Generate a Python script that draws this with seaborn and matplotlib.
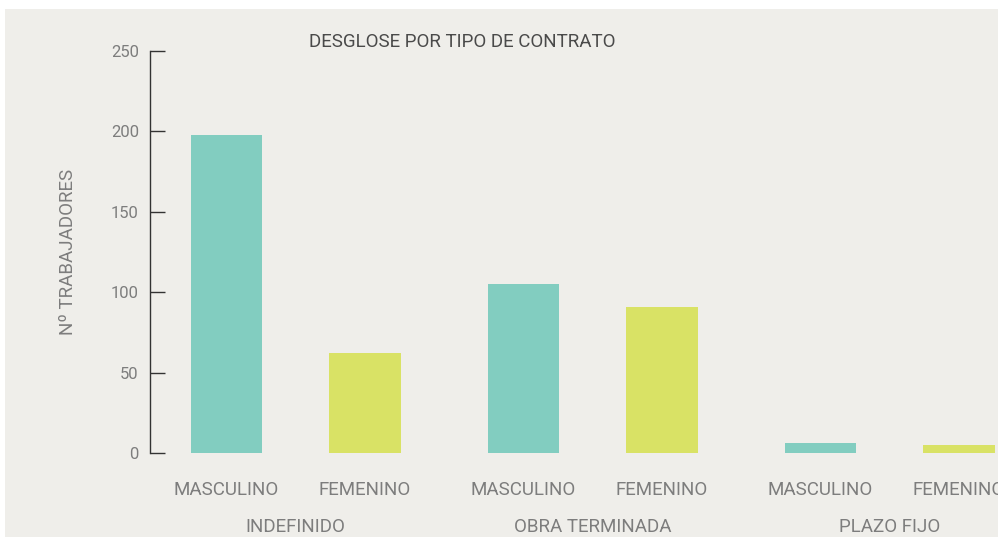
import matplotlib
matplotlib.use("Agg")
import matplotlib.pyplot as plt
import matplotlib.patches as mpatches
import pandas as pd
import seaborn as sns

# ─── Data ────────────────────────────────────────────────────────────────────
contracts = ["INDEFINIDO", "OBRA TERMINADA", "PLAZO FIJO"]
genders = ["MASCULINO", "FEMENINO"]
masculino = [198, 105, 6]
femenino = [62, 91, 5]
y_ticks = [0, 50, 100, 150, 200, 250]

TEAL = "#82cdc0"
LIME = "#d9e265"
BG = "#efeeea"
TEXT_GREY = "#7d7d7d"

df = pd.DataFrame({
    "contrato": contracts * 2,
    "genero": [genders[0]] * 3 + [genders[1]] * 3,
    "valor": masculino + femenino,
})

sns.set_style("white")
plt.rcParams["font.family"] = ["Roboto", "DejaVu Sans"]

W, H = 998, 537
fig = plt.figure(figsize=(W / 100, H / 100), dpi=100)
fig.patch.set_facecolor("white")
fig.patches.append(mpatches.Rectangle((5 / W, 0), 1, 1 - 9 / H, transform=fig.transFigure,
                                      facecolor=BG, edgecolor="none", zorder=-10))

ax = fig.add_axes([150 / W, (H - 453) / H, 1 - 150 / W, (453 - 51) / H])
ax.set_facecolor("none")

sns.barplot(data=df, x="contrato", y="valor", hue="genero", order=contracts,
            hue_order=genders, palette=[TEAL, LIME], width=0.93, gap=0.48,
            saturation=1, linewidth=0, legend=False, ax=ax)

ax.set_ylim(0, 250)
ax.set_xlim(-0.49, 2.365)
ax.set_yticks(y_ticks)
ax.tick_params(axis="y", left=True, direction="in", length=11, width=1, color="#333333",
               labelsize=12, labelcolor=TEXT_GREY, pad=8)

for side in ["top", "right", "bottom"]:
    ax.spines[side].set_visible(False)
ax.spines["left"].set_color("#333333")
ax.spines["left"].set_linewidth(1)

# group labels as x tick labels, gender labels under each bar
ax.tick_params(axis="x", bottom=False, length=0, pad=47, labelsize=13.5, labelcolor=TEXT_GREY)
ax.set_xticks(range(len(contracts)))
ax.set_xticklabels(contracts)
ax.set_xlabel("")

patch_genders = [g for g in genders for _ in contracts]
for patch, g in zip(ax.patches, patch_genders):
    cx = patch.get_x() + patch.get_width() / 2
    ax.text(cx, -23, g, ha="center", va="center", fontsize=13.5, color=TEXT_GREY,
            clip_on=False)

ax.set_ylabel("Nº TRABAJADORES", fontsize=13.5, color=TEXT_GREY, labelpad=24)

fig.text(462 / W, 1 - 42 / H, "DESGLOSE POR TIPO DE CONTRATO", ha="center", va="center",
         fontsize=13.5, color="#4a4a4a")

fig.savefig("out.png", dpi=100, facecolor=fig.get_facecolor())
